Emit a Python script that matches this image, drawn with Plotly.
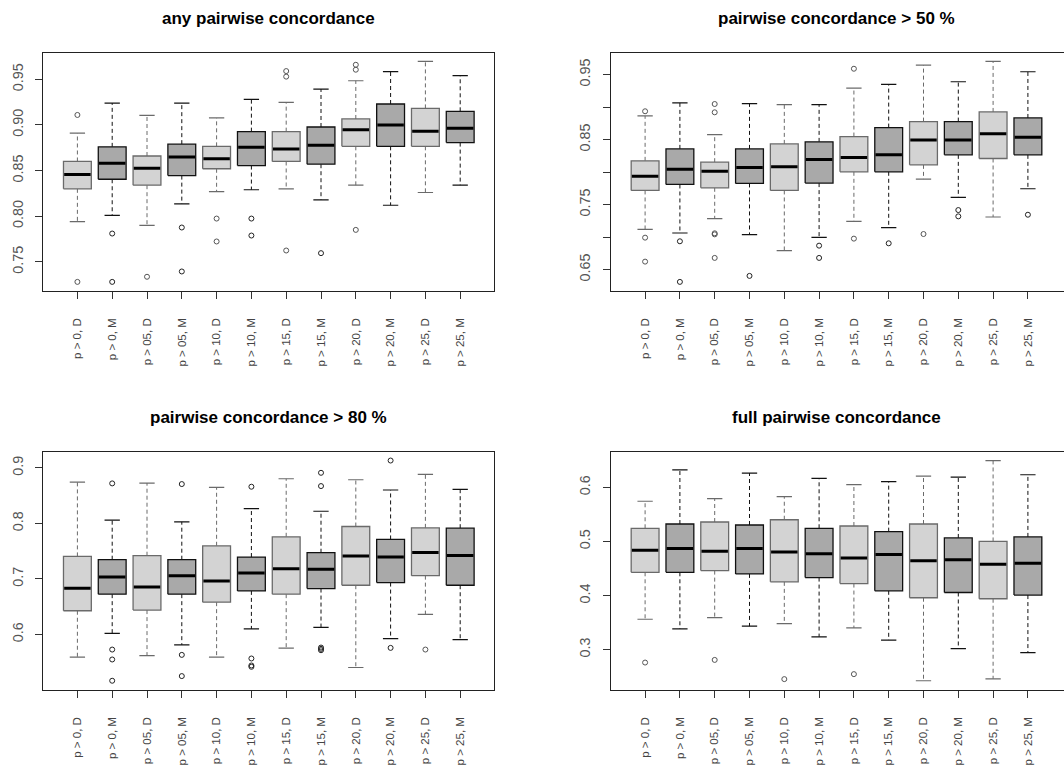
import plotly.graph_objects as go

labels = ["p > 0, D", "p > 0, M", "p > 05, D", "p > 05, M", "p > 10, D", "p > 10, M",
          "p > 15, D", "p > 15, M", "p > 20, D", "p > 20, M", "p > 25, D", "p > 25, M"]

titles = ["any pairwise concordance", "pairwise concordance > 50 %",
          "pairwise concordance > 80 %", "full pairwise concordance"]

# panel 1: any pairwise concordance
p1_lo = [0.794, 0.801, 0.790, 0.8135, 0.827, 0.829, 0.830, 0.818, 0.834, 0.812, 0.826, 0.834]
p1_q1 = [0.830, 0.8405, 0.834, 0.8445, 0.852, 0.8555, 0.860, 0.857, 0.8766, 0.8766, 0.8766, 0.8807]
p1_med = [0.8456, 0.858, 0.8526, 0.865, 0.8631, 0.8755, 0.8737, 0.8777, 0.8949, 0.900, 0.8931, 0.8964]
p1_q3 = [0.860, 0.876, 0.866, 0.879, 0.8766, 0.8927, 0.8927, 0.8978, 0.9066, 0.923, 0.9182, 0.915]
p1_hi = [0.891, 0.924, 0.9106, 0.924, 0.9077, 0.928, 0.9248, 0.9394, 0.9485, 0.9584, 0.9697, 0.954]
p1_out = [[0.911, 0.728], [0.781, 0.728], [0.7336], [0.7876, 0.7394], [0.7974, 0.7723],
          [0.7974, 0.7788], [0.9591, 0.953, 0.7624], [0.7595], [0.966, 0.9606, 0.785], [], [], []]

# panel 2: pairwise concordance > 50 %
p2_lo = [0.7119, 0.7063, 0.7283, 0.7037, 0.6791, 0.6996, 0.7242, 0.7145, 0.7892, 0.7611, 0.7309, 0.7744]
p2_q1 = [0.7718, 0.781, 0.7759, 0.7826, 0.7718, 0.7831, 0.8005, 0.8005, 0.8112, 0.8266, 0.821, 0.8266]
p2_med = [0.7938, 0.8046, 0.8015, 0.8071, 0.8082, 0.8194, 0.8225, 0.8266, 0.8496, 0.8496, 0.8589, 0.8537]
p2_q3 = [0.8174, 0.8358, 0.8153, 0.8358, 0.8435, 0.8466, 0.8548, 0.8686, 0.8778, 0.8778, 0.8927, 0.8834]
p2_hi = [0.8865, 0.9065, 0.8578, 0.9055, 0.9039, 0.9039, 0.9295, 0.9352, 0.9648, 0.9392, 0.9705, 0.9546]
p2_out = [[0.8937, 0.6991, 0.6622], [0.6935, 0.631], [0.9049, 0.8921, 0.7058, 0.7042, 0.6679], [0.6402], [],
          [0.6868, 0.6679], [0.9592, 0.6976], [0.6904], [0.7047], [0.7416, 0.7319], [], [0.7344]]

# panel 3: pairwise concordance > 80 %
p3_lo = [0.5588, 0.6018, 0.5617, 0.5809, 0.5588, 0.6096, 0.5749, 0.6126, 0.5402, 0.5922, 0.6358, 0.5904]
p3_q1 = [0.6424, 0.6723, 0.6436, 0.6723, 0.6579, 0.6782, 0.6723, 0.6824, 0.6884, 0.6932, 0.7057, 0.6884]
p3_med = [0.683, 0.7033, 0.6854, 0.7057, 0.6962, 0.7105, 0.7183, 0.7171, 0.741, 0.7392, 0.7476, 0.7422]
p3_q3 = [0.7404, 0.7344, 0.7416, 0.7344, 0.7595, 0.7392, 0.7757, 0.747, 0.7942, 0.7709, 0.7918, 0.7912]
p3_hi = [0.8743, 0.8056, 0.8725, 0.8026, 0.8647, 0.8265, 0.8803, 0.8217, 0.8785, 0.86, 0.888, 0.8611]
p3_out = [[], [0.8719, 0.5725, 0.5546, 0.5163], [], [0.8707, 0.5629, 0.5247], [],
          [0.8659, 0.5564, 0.5438, 0.5414], [], [0.891, 0.8671, 0.5761, 0.5737, 0.5713], [],
          [0.9131, 0.5755], [0.5725], []]

# panel 4: full pairwise concordance
p4_lo = [0.3562, 0.3385, 0.3593, 0.3434, 0.3483, 0.3238, 0.3403, 0.3177, 0.2426, 0.3018, 0.2462, 0.2945]
p4_q1 = [0.443, 0.443, 0.4461, 0.44, 0.4253, 0.4332, 0.4222, 0.4088, 0.396, 0.4057, 0.3941, 0.4009]
p4_med = [0.4839, 0.487, 0.4821, 0.487, 0.4803, 0.4772, 0.4693, 0.476, 0.4644, 0.4662, 0.4577, 0.4595]
p4_q3 = [0.5243, 0.5322, 0.5359, 0.5304, 0.5401, 0.5243, 0.5285, 0.5181, 0.5322, 0.5065, 0.5, 0.5084]
p4_hi = [0.5743, 0.6324, 0.5792, 0.6263, 0.5829, 0.6165, 0.6049, 0.6104, 0.6208, 0.6189, 0.6495, 0.6232]
p4_out = [[0.2762], [], [0.2811], [], [0.2456], [], [0.2548], [], [], [], [], []]

y_ticks = [[0.75, 0.80, 0.85, 0.90, 0.95],
           [0.65, 0.70, 0.75, 0.80, 0.85, 0.90, 0.95],
           [0.6, 0.7, 0.8, 0.9],
           [0.3, 0.4, 0.5, 0.6]]
y_ticktext = [["0.75", "0.80", "0.85", "0.90", "0.95"],
              ["0.65", "", "0.75", "", "0.85", "", "0.95"],
              ["0.6", "0.7", "0.8", "0.9"],
              ["0.3", "0.4", "0.5", "0.6"]]

panels = [
    (p1_lo, p1_q1, p1_med, p1_q3, p1_hi, p1_out),
    (p2_lo, p2_q1, p2_med, p2_q3, p2_hi, p2_out),
    (p3_lo, p3_q1, p3_med, p3_q3, p3_hi, p3_out),
    (p4_lo, p4_q1, p4_med, p4_q3, p4_hi, p4_out),
]

W, H = 1064, 765
# plot boxes in pixels (left, right, top, bottom)
boxes_px = [(43.3, 494.3, 53, 293), (611, 1064, 53, 293),
            (43.3, 494.3, 455.3, 695), (611, 1064, 455.3, 695)]

FILL_L, FILL_D = "#D3D3D3", "#A9A9A9"
BORD_L, BORD_D = "#6a6a6a", "#111111"
HALF = 0.4
STAPLE = 0.22

fig = go.Figure()
for k, (lo, q1, med, q3, hi, out) in enumerate(panels):
    ax = "" if k == 0 else str(k + 1)
    xr, yr = "x" + ax, "y" + ax
    for i in range(len(labels)):
        x = i + 1
        light = (i % 2 == 0)
        fill = FILL_L if light else FILL_D
        bord = BORD_L if light else BORD_D
        # whiskers
        fig.add_trace(go.Scatter(x=[x, x, None, x, x], y=[q3[i], hi[i], None, q1[i], lo[i]],
                                 mode="lines", line=dict(color=bord, width=1, dash="4px,3px"),
                                 xaxis=xr, yaxis=yr, hoverinfo="skip", showlegend=False))
        # staples
        fig.add_trace(go.Scatter(x=[x - STAPLE, x + STAPLE, None, x - STAPLE, x + STAPLE],
                                 y=[hi[i], hi[i], None, lo[i], lo[i]],
                                 mode="lines", line=dict(color=bord, width=1.2),
                                 xaxis=xr, yaxis=yr, hoverinfo="skip", showlegend=False))
        # box
        fig.add_trace(go.Scatter(x=[x - HALF, x + HALF, x + HALF, x - HALF, x - HALF],
                                 y=[q1[i], q1[i], q3[i], q3[i], q1[i]],
                                 mode="lines", fill="toself", fillcolor=fill,
                                 line=dict(color=bord, width=1.3),
                                 xaxis=xr, yaxis=yr, hoverinfo="skip", showlegend=False))
        # median
        fig.add_trace(go.Scatter(x=[x - HALF + 0.02, x + HALF - 0.02], y=[med[i], med[i]],
                                 mode="lines", line=dict(color="#000000", width=3),
                                 xaxis=xr, yaxis=yr, hoverinfo="skip", showlegend=False))
        # outliers
        if out[i]:
            fig.add_trace(go.Scatter(x=[x] * len(out[i]), y=out[i], mode="markers",
                                     marker=dict(symbol="circle-open", size=5,
                                                 color="#555555" if light else "#222222",
                                                 line=dict(width=1)),
                                     xaxis=xr, yaxis=yr, hoverinfo="skip", showlegend=False))

layout = dict(width=W, height=H, margin=dict(l=0, r=0, t=0, b=0),
              paper_bgcolor="white", plot_bgcolor="white",
              font=dict(family="Liberation Sans, Arial, sans-serif", color="#333333"))
annotations = []
for k, (lo, q1, med, q3, hi, out) in enumerate(panels):
    ax = "" if k == 0 else str(k + 1)
    l, r, t, b = boxes_px[k]
    allv = lo + hi + [v for o in out for v in o]
    vmin, vmax = min(allv), max(allv)
    pad = 0.04 * (vmax - vmin)
    # x range: R-style 0.5..n+0.5 extended by 4%
    n = len(labels)
    x0 = 0.5 - 0.04 * n
    unit = (494.3 - 43.3) / (n + 0.08 * n)
    x1 = x0 + (r - l) / unit
    layout["xaxis" + ax] = dict(
        domain=[l / W, r / W], range=[x0, x1], anchor="y" + ax,
        tickvals=list(range(1, n + 1)), ticktext=labels, tickangle=-90,
        tickfont=dict(size=11.5, color="#444444"), ticks="outside", ticklen=7,
        tickcolor="#333333", ticklabelstandoff=15,
        showline=True, linecolor="#222222", linewidth=1, mirror=True,
        showgrid=False, zeroline=False, fixedrange=True)
    layout["yaxis" + ax] = dict(
        domain=[1 - b / H, 1 - t / H], range=[vmin - pad, vmax + pad], anchor="x" + ax,
        tickvals=y_ticks[k], ticktext=y_ticktext[k], tickangle=-90,
        tickfont=dict(size=14.4, color="#555555"), ticks="outside", ticklen=7,
        tickcolor="#333333", ticklabelstandoff=7,
        showline=True, linecolor="#222222", linewidth=1, mirror=(k % 2 == 0),
        showgrid=False, zeroline=False, fixedrange=True)
    annotations.append(dict(text="<b>" + titles[k] + "</b>", x=((l + (494.3 - 43.3 + l if k % 2 else r)) / 2) / W,
                            y=1 - (t - 34) / H, xref="paper", yref="paper",
                            xanchor="center", yanchor="middle", showarrow=False,
                            font=dict(size=17, color="#000000")))
layout["annotations"] = annotations
fig.update_layout(**layout)
fig.write_html("out.html")
